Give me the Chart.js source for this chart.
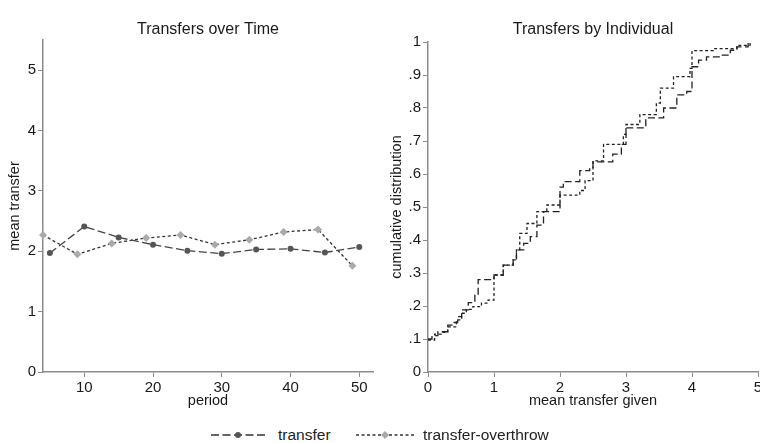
<!DOCTYPE html>
<html lang="en">
<head>
<meta charset="UTF-8">
<title>Transfers</title>
<style>
  html, body { margin: 0; padding: 0; background: #fff; overflow: hidden; width: 760px; height: 443px; }
  body { position: relative; font-family: Arial, "Liberation Sans", sans-serif; }
  .box { position: absolute; top: 0; height: 415px; }
  #leftBox { left: 0; width: 416px; }
  #rightBox { left: 380px; width: 426px; }
  .legend { position: absolute; top: 426px; left: 0; width: 760px; height: 18px; font-size: 15.5px; color: #222; }
  .legend svg { position: absolute; top: 0; }
  .legend span { position: absolute; top: 0px; }
</style>
</head>
<body>
<div class="box" id="leftBox"><canvas id="timeChart"></canvas></div>
<div class="box" id="rightBox"><canvas id="cdfChart"></canvas></div>

<div class="legend">
  <svg style="left:210px" width="58" height="18">
    <line x1="1" y1="9" x2="57" y2="9" stroke="#333" stroke-width="1.3" stroke-dasharray="8,3.5"/>
    <circle cx="28" cy="9" r="3" fill="#555"/>
  </svg>
  <span style="left:278px">transfer</span>
  <svg style="left:355px" width="60" height="18">
    <line x1="1" y1="9" x2="59" y2="9" stroke="#333" stroke-width="1.3" stroke-dasharray="3,2.5"/>
    <polygon points="30,5 34,9 30,13 26,9" fill="#aaa"/>
  </svg>
  <span style="left:423px">transfer-overthrow</span>
</div>

<script src="https://cdn.jsdelivr.net/npm/chart.js"></script>
<script>
  // left panel: mean transfer by period
  var periods = [5, 10, 15, 20, 25, 30, 35, 40, 45, 50];
  var transferMean = [1.97, 2.41, 2.23, 2.11, 2.01, 1.96, 2.03, 2.04, 1.98, 2.07];
  var overthrowPeriods = [4, 9, 14, 19, 24, 29, 34, 39, 44, 49];
  var overthrowMean = [2.27, 1.95, 2.13, 2.22, 2.27, 2.11, 2.19, 2.32, 2.36, 1.76];
  var periodTicks = [10, 20, 30, 40, 50];
  var meanTicks = [0, 1, 2, 3, 4, 5];

  // right panel: cumulative distribution of mean transfer given
  var transferCdfX = [0, 0.06, 0.15, 0.3, 0.38, 0.45, 0.51, 0.61, 0.71, 0.76, 1.0, 1.14, 1.29, 1.34, 1.45, 1.55, 1.65, 1.75,
                      2.0, 2.05, 2.3, 2.45, 2.5, 2.8, 2.93, 3.0, 3.3, 3.57, 3.77, 3.92, 4.0, 4.1, 4.22, 4.45, 4.58, 4.68, 4.85];
  var transferCdfY = [0.10, 0.11, 0.122, 0.142, 0.15, 0.168, 0.188, 0.21, 0.233, 0.28, 0.294, 0.324, 0.34, 0.37, 0.39, 0.41, 0.445, 0.486,
                      0.56, 0.577, 0.61, 0.62, 0.637, 0.66, 0.69, 0.74, 0.77, 0.80, 0.84, 0.85, 0.925, 0.945, 0.955, 0.96, 0.975, 0.985, 1.0];
  var overthrowCdfX = [0, 0.1, 0.2, 0.3, 0.43, 0.51, 0.58, 0.68, 0.81, 0.91, 1.0, 1.14, 1.29, 1.34, 1.39, 1.5, 1.65, 1.8,
                       2.0, 2.3, 2.38, 2.5, 2.66, 2.96, 3.0, 3.21, 3.46, 3.52, 3.72, 3.97, 4.0, 4.32, 4.68, 4.88];
  var overthrowCdfY = [0.097, 0.115, 0.12, 0.137, 0.158, 0.178, 0.19, 0.198, 0.209, 0.218, 0.294, 0.324, 0.34, 0.37, 0.42, 0.45, 0.486, 0.506,
                       0.536, 0.55, 0.58, 0.64, 0.69, 0.72, 0.75, 0.78, 0.815, 0.86, 0.895, 0.92, 0.974, 0.98, 0.99, 1.0];
  var cdfXTicks = [0, 1, 2, 3, 4, 5];
  var cdfYTicks = [0, 0.1, 0.2, 0.3, 0.4, 0.5, 0.6, 0.7, 0.8, 0.9, 1];

  var FONT = 'Arial, "Liberation Sans", sans-serif';
  var axisGray = '#8c8c8c';
  var textColor = '#1a1a1a';

  function pts(xs, ys) {
    return xs.map(function (x, i) { return { x: x, y: ys[i] }; });
  }
  function fixTicks(list) {
    return function (scale) { scale.ticks = list.map(function (v) { return { value: v }; }); };
  }
  function fixWidth(w) { return function (scale) { scale.width = w; }; }
  function fixHeight(h) { return function (scale) { scale.height = h; }; }

  function axis(extra) {
    var base = {
      type: 'linear',
      grid: { display: true, drawOnChartArea: false, drawTicks: true, tickLength: 5, color: axisGray, lineWidth: 1 },
      border: { display: true, color: axisGray, width: 1.5 },
      ticks: { color: textColor, font: { family: FONT, size: 15 }, padding: 2, maxRotation: 0, autoSkip: false }
    };
    for (var k in extra) base[k] = extra[k];
    return base;
  }
  function axisTitle(text, pad) {
    return { display: true, text: text, color: textColor, font: { family: FONT, size: 14.5 }, padding: pad };
  }
  // empty right-hand axis so the panel title centres over the plot
  function spacer(w) {
    return { type: 'linear', position: 'right', display: true, afterFit: fixWidth(w),
             grid: { display: false }, border: { display: false }, ticks: { display: false } };
  }

  Chart.defaults.animation = false;
  Chart.defaults.responsive = true;
  Chart.defaults.maintainAspectRatio = false;

  new Chart(document.getElementById('timeChart'), {
    type: 'line',
    data: {
      datasets: [{
        label: 'transfer',
        data: pts(periods, transferMean),
        borderColor: '#444',
        borderWidth: 1.3,
        borderDash: [8, 3.5],
        pointStyle: 'circle',
        pointRadius: 3,
        pointBackgroundColor: '#555',
        pointBorderWidth: 0,
        clip: false
      }, {
        label: 'transfer-overthrow',
        data: pts(overthrowPeriods, overthrowMean),
        borderColor: '#333',
        borderWidth: 1.3,
        borderDash: [3, 2.5],
        pointStyle: 'rectRot',
        pointRadius: 4,
        pointBackgroundColor: '#aaa',
        pointBorderWidth: 0,
        clip: false
      }]
    },
    options: {
      layout: { padding: 0 },
      plugins: {
        legend: { display: false },
        tooltip: { enabled: false },
        title: { display: true, text: 'Transfers over Time', color: textColor,
                 font: { family: FONT, size: 16, weight: 'normal' }, padding: { top: 20.4, bottom: 0.4 } }
      },
      scales: {
        x: axis({ min: 4, max: 52, afterBuildTicks: fixTicks(periodTicks), afterFit: fixHeight(43),
                  title: axisTitle('period', { top: 0, bottom: 5 }) }),
        y: axis({ min: 0, max: 5.5, afterBuildTicks: fixTicks(meanTicks), afterFit: fixWidth(43),
                  title: axisTitle('mean transfer', { top: 6, bottom: 0 }) }),
        pad: spacer(43)
      }
    }
  });

  new Chart(document.getElementById('cdfChart'), {
    type: 'line',
    data: {
      datasets: [{
        label: 'transfer',
        data: pts(transferCdfX, transferCdfY),
        borderColor: '#222',
        borderWidth: 1.3,
        borderDash: [7, 3.5],
        stepped: true,
        pointRadius: 0
      }, {
        label: 'transfer-overthrow',
        data: pts(overthrowCdfX, overthrowCdfY),
        borderColor: '#222',
        borderWidth: 1.3,
        borderDash: [3, 2.5],
        stepped: true,
        pointRadius: 0
      }]
    },
    options: {
      layout: { padding: 0 },
      plugins: {
        legend: { display: false },
        tooltip: { enabled: false },
        title: { display: true, text: 'Transfers by Individual', color: textColor,
                 font: { family: FONT, size: 16, weight: 'normal' }, padding: { top: 20.4, bottom: 2.4 } }
      },
      scales: {
        x: axis({ min: 0, max: 5, afterBuildTicks: fixTicks(cdfXTicks), afterFit: fixHeight(43),
                  title: axisTitle('mean transfer given', { top: 0, bottom: 5 }) }),
        y: axis({ min: 0, max: 1, afterBuildTicks: fixTicks(cdfYTicks), afterFit: fixWidth(48),
                  ticks: { color: textColor, font: { family: FONT, size: 15 }, padding: 2, autoSkip: false,
                           callback: function (v) { return v === 0 ? '0' : v === 1 ? '1' : v.toFixed(1).replace(/^0/, ''); } },
                  title: axisTitle('cumulative distribution', { top: 8, bottom: 0 }) }),
        pad: spacer(48)
      }
    }
  });
</script>
</body>
</html>
